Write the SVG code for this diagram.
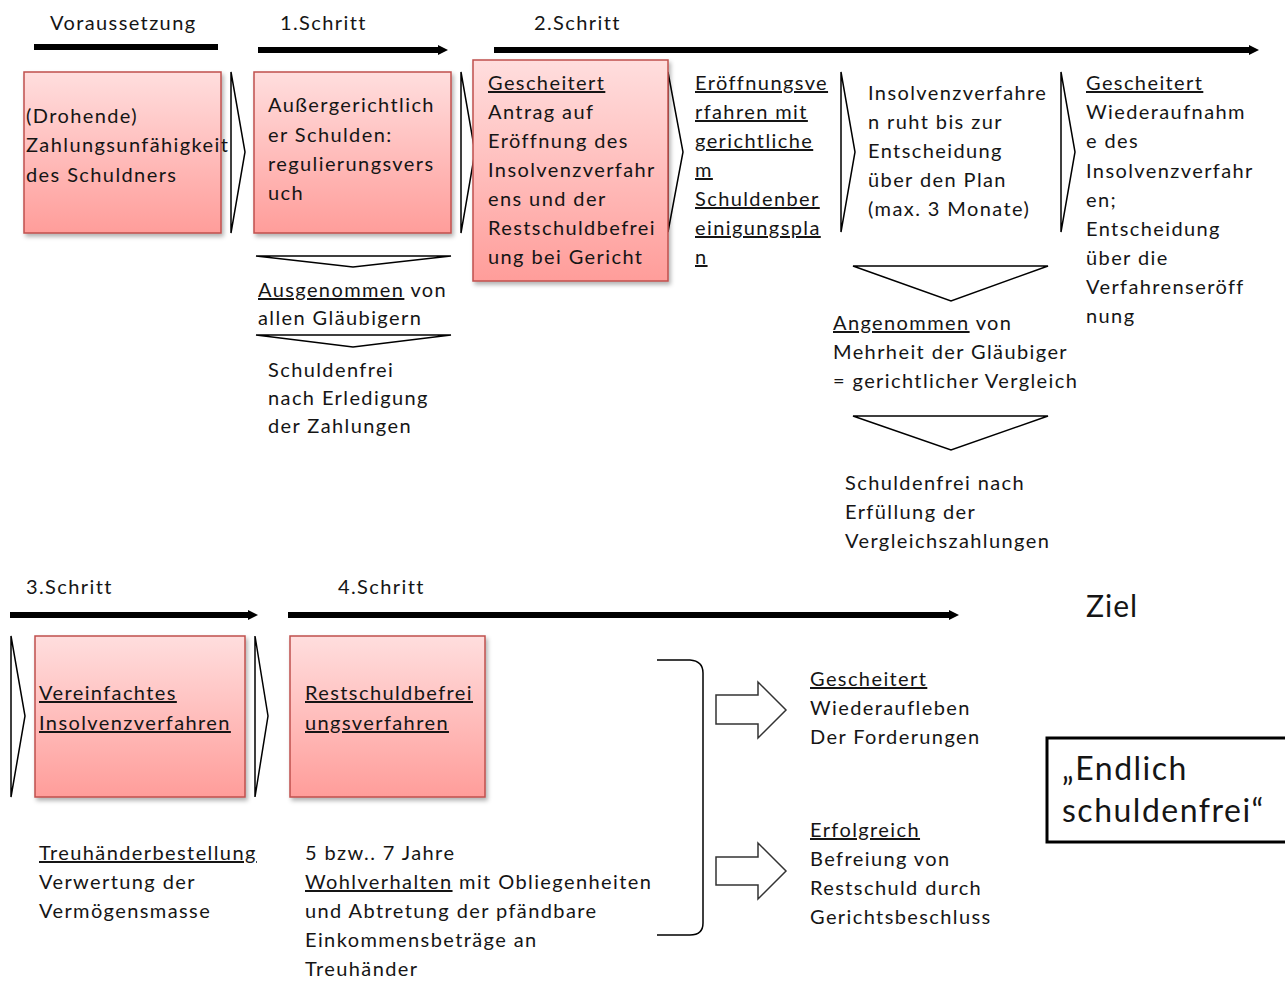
<svg xmlns="http://www.w3.org/2000/svg" width="1285" height="981" viewBox="0 0 1285 981">
<defs>
<linearGradient id="pink" x1="0" y1="0" x2="0" y2="1">
<stop offset="0" stop-color="#FFDEDE"/>
<stop offset="1" stop-color="#FF9D9A"/>
</linearGradient>
<filter id="sh" x="-10%" y="-10%" width="130%" height="130%">
<feDropShadow dx="2" dy="3" stdDeviation="2" flood-color="#000" flood-opacity="0.3"/>
</filter>
<marker id="ah" viewBox="0 0 10 10" markerWidth="1.7" markerHeight="2.2" refX="0" refY="5" orient="auto" markerUnits="strokeWidth">
<path d="M0,0 L10,5 L0,10 z" fill="#000"/>
</marker>
<style>
text{font-family:Lato,"Liberation Sans",sans-serif;font-size:20px;letter-spacing:1.4px;fill:#151515}
.box{fill:url(#pink);stroke:#C0504D;stroke-width:1.5;filter:url(#sh)}
.chev{fill:#fff;stroke:#000;stroke-width:1.5;stroke-linejoin:miter}
.tri{fill:#fff;stroke:#000;stroke-width:1.5}
.bar{stroke:#000;stroke-width:6;fill:none}
.arr{fill:#fff;stroke:#333;stroke-width:1.5}
.u{text-decoration:underline}
.ziel{font-size:30px;letter-spacing:1px}
.big{font-size:32px;letter-spacing:1.5px}
</style>
</defs>
<rect width="1285" height="981" fill="#fff"/>

<g id="headers">
<text x="50" y="30">Voraussetzung</text>
<text x="280" y="30">1.Schritt</text>
<text x="534" y="30">2.Schritt</text>
<text x="26" y="594">3.Schritt</text>
<text x="338" y="594">4.Schritt</text>
<text x="1086" y="617" class="ziel">Ziel</text>
</g>

<g id="connectors">
<line class="bar" x1="34" y1="47" x2="218" y2="47"/>
<line class="bar" x1="258" y1="50" x2="438" y2="50" marker-end="url(#ah)"/>
<line class="bar" x1="494" y1="50" x2="1249" y2="50" marker-end="url(#ah)"/>
<line class="bar" x1="10" y1="615" x2="248" y2="615" marker-end="url(#ah)"/>
<line class="bar" x1="288" y1="615" x2="949" y2="615" marker-end="url(#ah)"/>
<polygon class="chev" points="231,72 245,152 231,233"/>
<polygon class="chev" points="461,72 475,152 461,233"/>
<polygon class="chev" points="668,72 683,152 668,232"/>
<polygon class="chev" points="841,72 855,152 841,232"/>
<polygon class="chev" points="1061,72 1075,152 1061,232"/>
<polygon class="chev" points="11,636 25,716 11,797"/>
<polygon class="chev" points="255,636 268,716 255,797"/>
<polygon class="tri" points="256,256 451,256 353,267"/>
<polygon class="tri" points="256,335 451,335 353,347"/>
<polygon class="tri" points="853,266 1048,266 951,301"/>
<polygon class="tri" points="853,416 1048,416 951,450"/>
<path d="M657,660 L690,660 Q703,661 703,673 L703,923 Q703,935 690,935 L657,935" fill="none" stroke="#000" stroke-width="1.5"/>
<polygon class="arr" points="716,695 758,695 758,682 786,710 758,738 758,724 716,724"/>
<polygon class="arr" points="716,857 758,857 758,843 786,871 758,899 758,885 716,885"/>
</g>

<g id="n-voraussetzung">
<rect class="box" x="24" y="72" width="197" height="161"/>
<text x="26" y="123">(Drohende)</text>
<text x="26" y="152">Zahlungsunfähigkeit</text>
<text x="26" y="182">des Schuldners</text>
</g>

<g id="n-aussergerichtlich">
<rect class="box" x="254" y="72" width="197" height="161"/>
<text x="268" y="112">Außergerichtlich</text>
<text x="268" y="142">er Schulden:</text>
<text x="268" y="171">regulierungsvers</text>
<text x="268" y="200">uch</text>
</g>

<g id="n-ausgenommen">
<text x="258" y="297"><tspan class="u">Ausgenommen</tspan> von</text>
<text x="258" y="325">allen Gläubigern</text>
<text x="268" y="377">Schuldenfrei</text>
<text x="268" y="405">nach Erledigung</text>
<text x="268" y="433">der Zahlungen</text>
</g>

<g id="n-antrag">
<rect class="box" x="473" y="60" width="195" height="221"/>
<text x="488" y="90" class="u">Gescheitert</text>
<text x="488" y="119">Antrag auf</text>
<text x="488" y="148">Eröffnung des</text>
<text x="488" y="177">Insolvenzverfahr</text>
<text x="488" y="206">ens und der</text>
<text x="488" y="235">Restschuldbefrei</text>
<text x="488" y="264">ung bei Gericht</text>
</g>

<g id="n-eroeffnung">
<text x="695" y="90" class="u">Eröffnungsve</text>
<text x="695" y="119" class="u">rfahren mit</text>
<text x="695" y="148" class="u">gerichtliche</text>
<text x="695" y="177" class="u">m</text>
<text x="695" y="206" class="u">Schuldenber</text>
<text x="695" y="235" class="u">einigungspla</text>
<text x="695" y="264" class="u">n</text>
</g>

<g id="n-ruht">
<text x="868" y="100">Insolvenzverfahre</text>
<text x="868" y="129">n ruht bis zur</text>
<text x="868" y="158">Entscheidung</text>
<text x="868" y="187">über den Plan</text>
<text x="868" y="216">(max. 3 Monate)</text>
</g>

<g id="n-wiederaufnahme">
<text x="1086" y="90" class="u">Gescheitert</text>
<text x="1086" y="119">Wiederaufnahm</text>
<text x="1086" y="148">e des</text>
<text x="1086" y="178">Insolvenzverfahr</text>
<text x="1086" y="207">en;</text>
<text x="1086" y="236">Entscheidung</text>
<text x="1086" y="265">über die</text>
<text x="1086" y="294">Verfahrenseröff</text>
<text x="1086" y="323">nung</text>
</g>

<g id="n-angenommen">
<text x="833" y="330"><tspan class="u">Angenommen</tspan> von</text>
<text x="833" y="359">Mehrheit der Gläubiger</text>
<text x="833" y="388">= gerichtlicher Vergleich</text>
</g>

<g id="n-vergleich">
<text x="845" y="490">Schuldenfrei nach</text>
<text x="845" y="519">Erfüllung der</text>
<text x="845" y="548">Vergleichszahlungen</text>
</g>

<g id="n-vereinfacht">
<rect class="box" x="35" y="636" width="210" height="161"/>
<text x="39" y="700" class="u">Vereinfachtes</text>
<text x="39" y="730" class="u">Insolvenzverfahren</text>
</g>

<g id="n-treuhaender">
<text x="39" y="860" class="u">Treuhänderbestellung</text>
<text x="39" y="889">Verwertung der</text>
<text x="39" y="918">Vermögensmasse</text>
</g>

<g id="n-restschuld">
<rect class="box" x="290" y="636" width="195" height="161"/>
<text x="305" y="700" class="u">Restschuldbefrei</text>
<text x="305" y="730" class="u">ungsverfahren</text>
</g>

<g id="n-wohlverhalten">
<text x="305" y="860">5 bzw.. 7 Jahre</text>
<text x="305" y="889"><tspan class="u">Wohlverhalten</tspan> mit Obliegenheiten</text>
<text x="305" y="918">und Abtretung der pfändbare</text>
<text x="305" y="947">Einkommensbeträge an</text>
<text x="305" y="976">Treuhänder</text>
</g>

<g id="n-gescheitert2">
<text x="810" y="686" class="u">Gescheitert</text>
<text x="810" y="715">Wiederaufleben</text>
<text x="810" y="744">Der Forderungen</text>
</g>

<g id="n-erfolgreich">
<text x="810" y="837" class="u">Erfolgreich</text>
<text x="810" y="866">Befreiung von</text>
<text x="810" y="895">Restschuld durch</text>
<text x="810" y="924">Gerichtsbeschluss</text>
</g>

<g id="n-ziel">
<rect x="1047" y="738" width="245" height="104" fill="#fff" stroke="#000" stroke-width="3"/>
<text x="1062" y="780" class="big">„Endlich</text>
<text x="1062" y="822" class="big">schuldenfrei“</text>
</g>
</svg>
